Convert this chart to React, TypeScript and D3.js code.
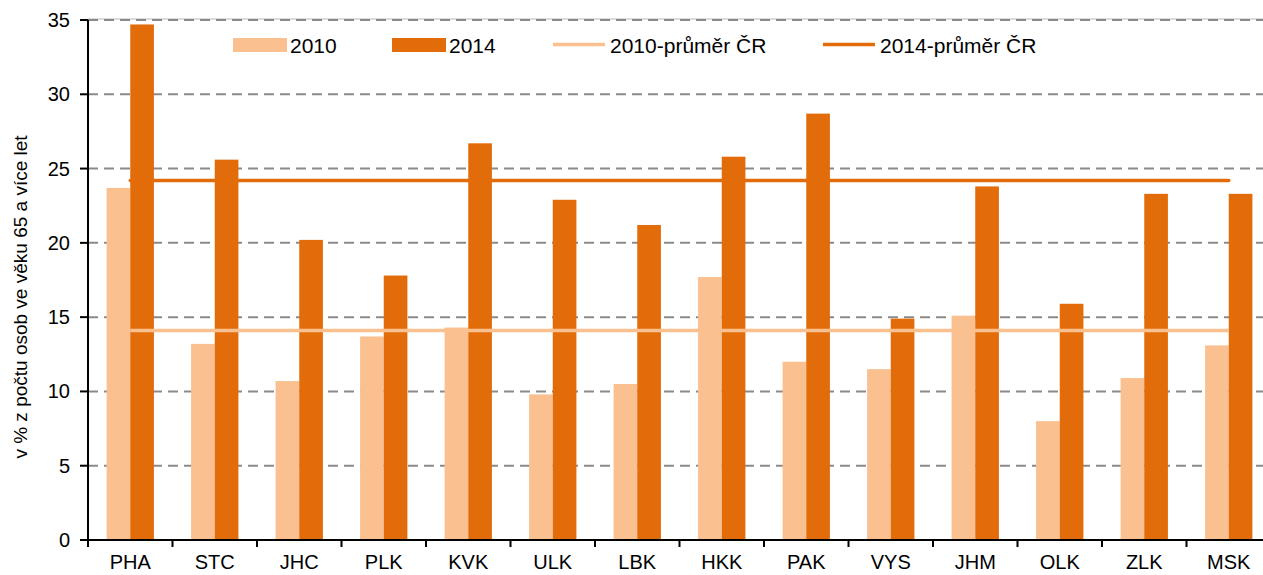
import React from "react";
import * as d3 from "d3";

const categories = ["PHA", "STC", "JHC", "PLK", "KVK", "ULK", "LBK", "HKK", "PAK", "VYS", "JHM", "OLK", "ZLK", "MSK"];
const values2010 = [23.7, 13.2, 10.7, 13.7, 14.3, 9.8, 10.5, 17.7, 12.0, 11.5, 15.1, 8.0, 10.9, 13.1];
const values2014 = [34.7, 25.6, 20.2, 17.8, 26.7, 22.9, 21.2, 25.8, 28.7, 14.9, 23.8, 15.9, 23.3, 23.3];
const avg2010 = 14.1;
const avg2014 = 24.2;
const yTicks = [0, 5, 10, 15, 20, 25, 30, 35];
const seriesNames = ["2010", "2014"];
const lineNames = ["2010-průměr ČR", "2014-průměr ČR"];

const C2010 = "#FAC090";
const C2014 = "#E36C0A";
const FONT = "Arial, 'Liberation Sans', sans-serif";

export default function App() {
  const W = 1263, H = 575;
  const left = 88, right = 1271, top = 20, bottom = 540;
  const x0 = d3.scaleBand<string>().domain(categories).range([left, right]).paddingInner(0.44).paddingOuter(0.22);
  const x1 = d3.scaleBand<string>().domain(seriesNames).range([0, x0.bandwidth()]);
  const y = d3.scaleLinear().domain([0, 35]).range([bottom, top]);
  const step = x0.step();
  const boundaries = d3.range(categories.length + 1).map(i => left + i * step);
  const center = (c: string) => (x0(c) as number) + x0.bandwidth() / 2;
  const lineGen = d3.line<[number, number]>().x(d => d[0]).y(d => d[1]);
  const firstC = center(categories[0]);
  const lastC = center(categories[categories.length - 1]);

  return (
    <svg width={W} height={H} style={{ position: "absolute", left: 0, top: 0, background: "#fff" }} fontFamily={FONT}>
      <rect x={0} y={0} width={W} height={H} fill="#fff" />
      {/* top plot border */}
      <line x1={left} x2={W} y1={top - 1} y2={top - 1} stroke="#cfcfcf" strokeWidth={1.5} />
      {/* gridlines */}
      {yTicks.filter(t => t > 0).map(t => (
        <line key={t} x1={left} x2={W} y1={y(t)} y2={y(t)} stroke="#8a8a8a" strokeWidth={2} strokeDasharray="10,6" />
      ))}
      {/* bars */}
      {categories.map((c, i) => (
        <g key={c} transform={`translate(${x0(c)},0)`}>
          <rect x={x1("2010")} y={y(values2010[i])} width={x1.bandwidth()} height={y(0) - y(values2010[i])} fill={C2010} />
          <rect x={x1("2014")} y={y(values2014[i])} width={x1.bandwidth()} height={y(0) - y(values2014[i])} fill={C2014} />
        </g>
      ))}
      {/* average lines */}
      <path d={lineGen([[firstC, y(avg2010)], [lastC, y(avg2010)]]) || ""} stroke={C2010} strokeWidth={3.5} fill="none" />
      <path d={lineGen([[firstC, y(avg2014)], [lastC, y(avg2014)]]) || ""} stroke={C2014} strokeWidth={3.5} fill="none" strokeLinecap="round" />
      {/* axes */}
      <line x1={left} x2={left} y1={top} y2={bottom} stroke="#000" strokeWidth={2} />
      <line x1={left} x2={W} y1={bottom} y2={bottom} stroke="#000" strokeWidth={2} />
      {yTicks.map(t => (
        <g key={t}>
          <line x1={left - 8} x2={left} y1={y(t)} y2={y(t)} stroke="#000" strokeWidth={2} />
          <text x={left - 18} y={y(t)} dy="0.35em" textAnchor="end" fontSize={20} fill="#000">{t}</text>
        </g>
      ))}
      {boundaries.map((b, i) => (
        <line key={i} x1={b} x2={b} y1={bottom} y2={bottom + 7} stroke="#000" strokeWidth={2} />
      ))}
      {categories.map(c => (
        <text key={c} x={center(c)} y={569} textAnchor="middle" fontSize={20} fill="#000">{c}</text>
      ))}
      {/* y title */}
      <text transform={`translate(27,${297}) rotate(-90)`} textAnchor="middle" fontSize={19} fill="#000">
        v % z počtu osob ve věku 65 a více let
      </text>
      {/* legend */}
      <rect x={233} y={38} width={54} height={14} fill={C2010} />
      <text x={290} y={52.5} fontSize={21} fill="#000">{seriesNames[0]}</text>
      <rect x={392} y={38} width={54} height={14} fill={C2014} />
      <text x={449} y={52.5} fontSize={21} fill="#000">{seriesNames[1]}</text>
      <line x1={553} x2={605} y1={44.5} y2={44.5} stroke={C2010} strokeWidth={3.5} />
      <text x={610} y={52.5} fontSize={21} fill="#000">{lineNames[0]}</text>
      <line x1={823} x2={875} y1={44.5} y2={44.5} stroke={C2014} strokeWidth={3.5} />
      <text x={880} y={52.5} fontSize={21} fill="#000">{lineNames[1]}</text>
    </svg>
  );
}
